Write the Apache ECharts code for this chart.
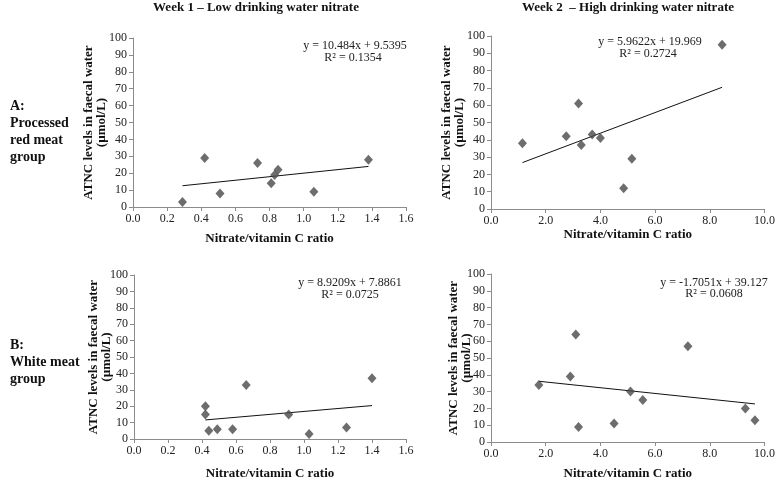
<!DOCTYPE html>
<html><head><meta charset="utf-8">
<script src="https://cdn.jsdelivr.net/npm/echarts@6/dist/echarts.min.js"></script>
<style>html,body{margin:0;padding:0;background:#fff}#c{width:778px;height:481px}</style>
</head><body><div id="c"></div>
<script>
// ---- data ----
const columnTitles = ['Week 1 – Low drinking water nitrate', 'Week 2  – High drinking water nitrate'];
const rowLabels = ['A:\nProcessed\nred meat\ngroup', 'B:\nWhite meat\ngroup'];
const yAxisTitle = 'ATNC levels in faecal water\n(µmol/L)';
const xAxisTitle = 'Nitrate/vitamin C ratio';

const redWeek1X = [0.29, 0.42, 0.51, 0.73, 0.81, 0.83, 0.85, 1.06, 1.38];
const redWeek1Y = [3, 29, 8, 26, 14, 19, 22, 9, 28];
const redWeek2X = [1.15, 2.75, 3.2, 3.3, 3.7, 4.0, 4.85, 5.15, 8.45];
const redWeek2Y = [38, 42, 61, 37, 43, 41, 12, 29, 95];
const whiteWeek1X = [0.42, 0.42, 0.44, 0.49, 0.58, 0.66, 0.91, 1.03, 1.25, 1.40];
const whiteWeek1Y = [20, 15, 5, 6, 6, 33, 15, 3, 7, 37];
const whiteWeek2X = [1.75, 2.9, 3.1, 3.2, 4.5, 5.1, 5.55, 7.2, 9.3, 9.65];
const whiteWeek2Y = [34, 39, 64, 9, 11, 30, 25, 57, 20, 13];

const trendSlopes = [10.484, 5.9622, 8.9209, -1.7051];
const trendIntercepts = [9.5395, 19.969, 7.8861, 39.127];
const equationLabels = ['y = 10.484x + 9.5395', 'y = 5.9622x + 19.969', 'y = 8.9209x + 7.8861', 'y = -1.7051x + 39.127'];
const rSquaredLabels = ['R² = 0.1354', 'R² = 0.2724', 'R² = 0.0725', 'R² = 0.0608'];

const yMin = 0, yMax = 100, yStep = 10;
const week1Min = 0, week1Max = 1.6, week1Step = 0.2;
const week2Min = 0, week2Max = 10, week2Step = 2;

// ---- layout / style ----
const FONT = "'Liberation Serif', 'Times New Roman', serif";
const AXIS_COLOR = '#8c8c8c';
const grids = [
  {left: 133, top: 38, width: 273, height: 169},
  {left: 491, top: 36, width: 274, height: 173},
  {left: 134, top: 275, width: 272, height: 167},
  {left: 491, top: 274, width: 275, height: 169}
];
const panels = [
  {x: redWeek1X, y: redWeek1Y, week: 1, xGap: 25, yGap: 25},
  {x: redWeek2X, y: redWeek2Y, week: 2, xGap: 14, yGap: 25},
  {x: whiteWeek1X, y: whiteWeek1Y, week: 1, xGap: 28, yGap: 21},
  {x: whiteWeek2X, y: whiteWeek2Y, week: 2, xGap: 25, yGap: 18}
];
const eqPos = [[355, 46, 353, 58], [650, 42, 648, 54], [350, 283, 350, 295], [714, 283, 714, 294]];

const xAxes = [], yAxes = [], series = [];
panels.forEach((p, i) => {
  const w1 = p.week === 1;
  xAxes.push({
    type: 'value', gridIndex: i,
    min: w1 ? week1Min : week2Min, max: w1 ? week1Max : week2Max, interval: w1 ? week1Step : week2Step,
    splitLine: {show: false},
    axisLine: {show: true, onZero: false, lineStyle: {color: AXIS_COLOR, width: 1}},
    axisTick: {show: true, inside: false, length: 4, lineStyle: {color: AXIS_COLOR}},
    axisLabel: {color: '#222', fontFamily: FONT, fontSize: 12, margin: 6, formatter: v => v.toFixed(1)},
    name: xAxisTitle, nameLocation: 'middle', nameGap: p.xGap,
    nameTextStyle: {color: '#111', fontFamily: FONT, fontSize: 13, fontWeight: 'bold'}
  });
  yAxes.push({
    type: 'value', gridIndex: i, min: yMin, max: yMax, interval: yStep,
    splitLine: {show: false},
    axisLine: {show: true, onZero: false, lineStyle: {color: AXIS_COLOR, width: 1}},
    axisTick: {show: true, inside: false, length: 4, lineStyle: {color: AXIS_COLOR}},
    axisLabel: {color: '#222', fontFamily: FONT, fontSize: 12, margin: 6},
    name: yAxisTitle, nameLocation: 'middle', nameGap: p.yGap, nameRotate: 90, nameMoveOverlap: false,
    nameTextStyle: {color: '#111', fontFamily: FONT, fontSize: 13, fontWeight: 'bold', lineHeight: 13, align: 'center'}
  });
  series.push({
    type: 'scatter', xAxisIndex: i, yAxisIndex: i,
    data: p.x.map((v, k) => [v, p.y[k]]),
    symbol: 'diamond', symbolSize: [9, 10],
    itemStyle: {color: '#484848'}, z: 3
  });
  const xs = [Math.min(...p.x), Math.max(...p.x)];
  series.push({
    type: 'line', xAxisIndex: i, yAxisIndex: i,
    data: xs.map(v => [v, trendSlopes[i] * v + trendIntercepts[i]]),
    symbol: 'none', lineStyle: {color: '#111', width: 1}, z: 2, silent: true
  });
});

const graphics = [];
columnTitles.forEach((t, i) => {
  graphics.push({type: 'text', style: {text: t, x: i === 0 ? 256 : 628, y: 8, textAlign: 'center', textVerticalAlign: 'middle',
    font: "bold 13px " + FONT, fill: '#111'}});
});
rowLabels.forEach((t, i) => {
  graphics.push({type: 'text', style: {text: t, x: 10, y: i === 0 ? 98 : 337, textAlign: 'left', textVerticalAlign: 'top',
    font: "bold 14px " + FONT, lineHeight: 17, fill: '#111'}});
});
eqPos.forEach((q, i) => {
  graphics.push({type: 'text', style: {text: equationLabels[i], x: q[0], y: q[1], textAlign: 'center', textVerticalAlign: 'middle',
    font: "12px " + FONT, fill: '#222'}});
  graphics.push({type: 'text', style: {text: rSquaredLabels[i], x: q[2], y: q[3], textAlign: 'center', textVerticalAlign: 'middle',
    font: "12px " + FONT, fill: '#222'}});
});

const chart = echarts.init(document.getElementById('c'), null, {renderer: 'canvas'});
chart.setOption({
  animation: false,
  backgroundColor: '#fff',
  grid: grids,
  xAxis: xAxes,
  yAxis: yAxes,
  series: series,
  graphic: graphics
});
</script></body></html>
